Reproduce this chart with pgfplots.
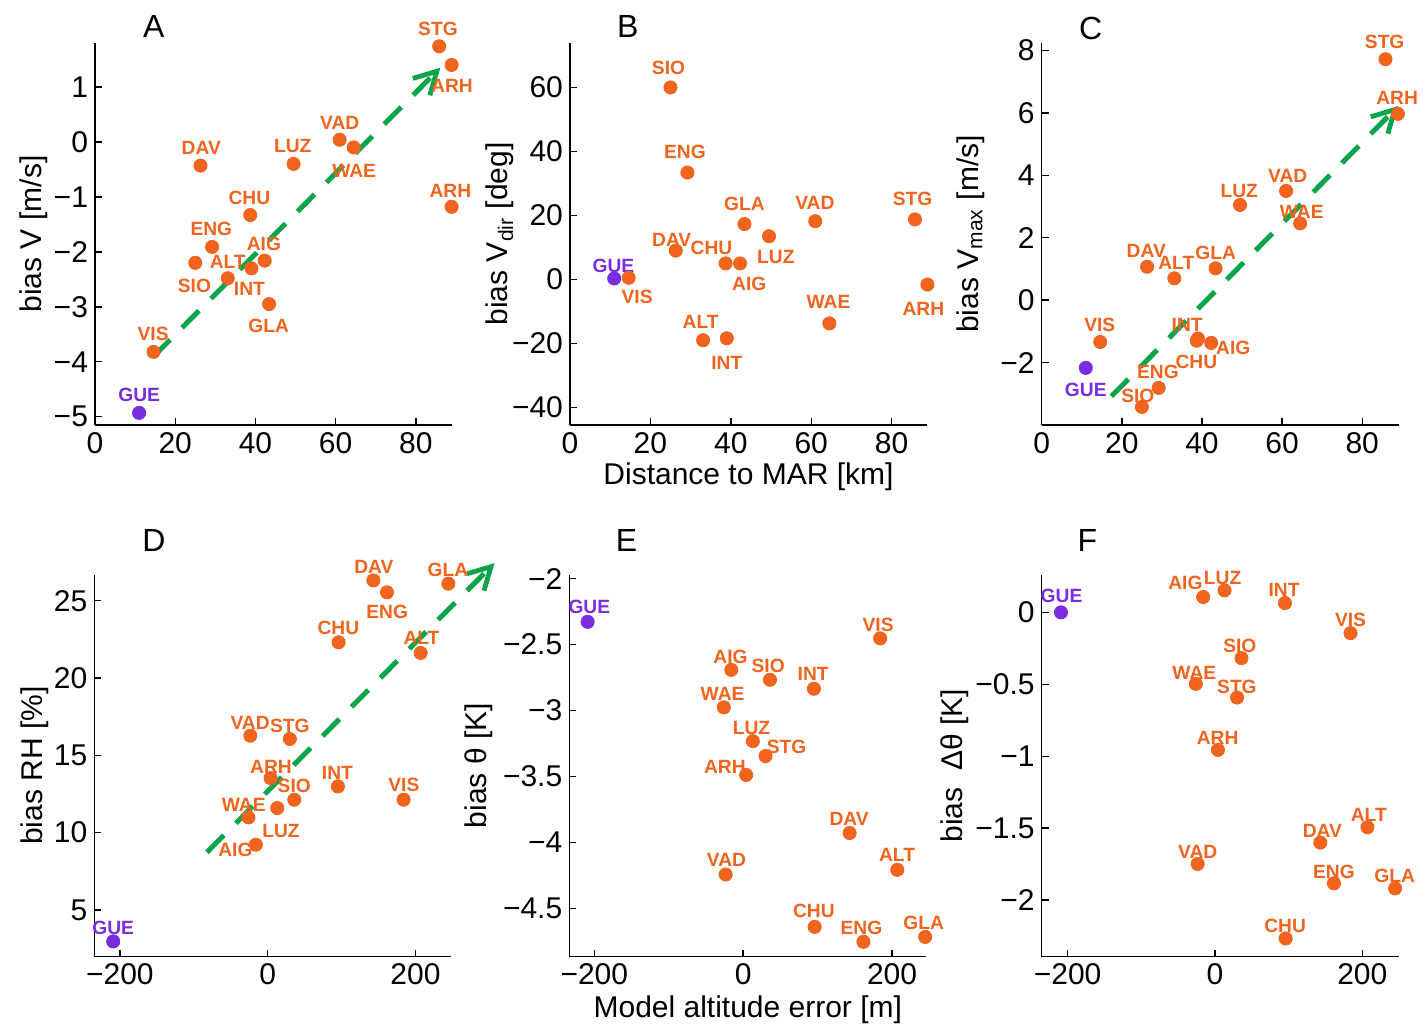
\documentclass[border=0pt]{standalone}
\usepackage{fontspec}
\setmainfont{Liberation Sans}
\setsansfont{Liberation Sans}
\usepackage{pgfplots}
\pgfplotsset{compat=1.18}
\usetikzlibrary{arrows.meta}
\definecolor{orgC}{RGB}{240,100,30}
\definecolor{purC}{RGB}{120,45,225}
\definecolor{grnC}{RGB}{10,165,75}
\pgfplotsset{
  panel/.style={
    anchor=south west, width=178.5pt, height=191pt, scale only axis,
    axis lines=left, axis line style={-, line width=0.7pt, black},
    tick align=inside, major tick length=3.5pt,
    every tick/.style={black, line width=0.7pt},
    ticklabel style={font=\fontsize{15}{15}\selectfont, text=black},
    label style={font=\fontsize{15}{16}\selectfont, text=black},
    clip=false,
  },
  orgpts/.style={only marks, mark=*, mark size=3.3pt, draw=orgC, fill=orgC},
  purpts/.style={only marks, mark=*, mark size=3.3pt, draw=purC, fill=purC},
  garrow/.style={no marks, draw=grnC, line width=2.5pt, dash pattern=on 12pt off 8.5pt, -{Straight Barb[length=11pt,width=12pt,line width=2.4pt]}},
}
\tikzset{
  st/.style={font=\fontsize{9.6}{10}\selectfont\bfseries, text=orgC, inner sep=0pt},
  gu/.style={font=\fontsize{9.6}{10}\selectfont\bfseries, text=purC, inner sep=0pt},
  let/.style={font=\fontsize{16}{16}\selectfont, text=black, inner sep=0pt},
}
\begin{document}
\begin{tikzpicture}[x=1pt,y=1pt]
\useasboundingbox (0,0) rectangle (712.5,515);
% ---------------- A ----------------
\begin{axis}[panel, at={(47.5pt,302.5pt)},
  xmin=0, xmax=89, ymin=-5.15, ymax=1.8,
  xtick={0,20,40,60,80}, xticklabels={0,20,40,60,80},
  ytick={-5,-4,-3,-2,-1,0,1}, yticklabels={−5,−4,−3,−2,−1,0,1},
  ylabel={bias V [m/s]},
  ylabel style={at={(axis description cs:-0.172,0.5)}, anchor=center}]
\addplot[orgpts] coordinates {(85.8,1.74) (88.9,1.40) (88.9,-1.18) (61,0.04) (64.5,-0.10) (26.3,-0.43) (49.5,-0.40) (38.7,-1.33) (29.2,-1.91) (25,-2.20) (33.1,-2.48) (39,-2.30) (42.3,-2.16) (43.4,-2.95) (14.6,-3.82)};
\addplot[purpts] coordinates {(11,-4.93)};
\addplot[garrow] coordinates {(14.5,-3.91) (86.1,1.35)};
\node[st] at (axis cs:85.5,2.05) {STG};
\node[st] at (axis cs:89,1.02) {ARH};
\node[st] at (axis cs:61,0.34) {VAD};
\node[st] at (axis cs:64.6,-0.53) {WAE};
\node[st] at (axis cs:26.5,-0.11) {DAV};
\node[st] at (axis cs:49.3,-0.08) {LUZ};
\node[st] at (axis cs:88.6,-0.89) {ARH};
\node[st] at (axis cs:38.5,-1.01) {CHU};
\node[st] at (axis cs:29,-1.58) {ENG};
\node[st] at (axis cs:42.1,-1.86) {AIG};
\node[st] at (axis cs:33.1,-2.18) {ALT};
\node[st] at (axis cs:24.8,-2.62) {SIO};
\node[st] at (axis cs:38.5,-2.68) {INT};
\node[st] at (axis cs:43.3,-3.35) {GLA};
\node[st] at (axis cs:14.5,-3.50) {VIS};
\node[gu] at (axis cs:11,-4.61) {GUE};
\node[let] at (rel axis cs:0.165,1.042) {A};
\end{axis}
% ---------------- B ----------------
\begin{axis}[panel, at={(285pt,302.5pt)},
  xmin=0, xmax=88.8, ymin=-45.5, ymax=73.9,
  xtick={0,20,40,60,80}, xticklabels={0,20,40,60,80},
  ytick={-40,-20,0,20,40,60}, yticklabels={−40,−20,0,20,40,60},
  xlabel={Distance to MAR [km]},
  xlabel style={at={(axis description cs:0.5,-0.136)}, anchor=center},
  ylabel={bias V\textsubscript{dir} [deg]},
  ylabel style={at={(axis description cs:-0.196,0.5)}, anchor=center}]
\addplot[orgpts] coordinates {(25,60) (29.2,33.4) (43.4,17.3) (61,18.2) (85.8,18.75) (49.5,13.5) (26.3,9.0) (38.7,5.0) (42.3,5.0) (14.6,0.5) (88.9,-1.6) (64.5,-13.75) (33.1,-19) (39,-18.4)};
\addplot[purpts] coordinates {(11,0.3)};
\node[st] at (axis cs:24.5,66.1) {SIO};
\node[st] at (axis cs:28.6,39.9) {ENG};
\node[st] at (axis cs:43.4,23.75) {GLA};
\node[st] at (axis cs:60.9,24) {VAD};
\node[st] at (axis cs:85.2,25.3) {STG};
\node[st] at (axis cs:25.3,12.5) {DAV};
\node[st] at (axis cs:35.2,10) {CHU};
\node[st] at (axis cs:51.2,7.1) {LUZ};
\node[gu] at (axis cs:10.8,4.3) {GUE};
\node[st] at (axis cs:44.6,-1.25) {AIG};
\node[st] at (axis cs:16.7,-5.6) {VIS};
\node[st] at (axis cs:64.3,-7) {WAE};
\node[st] at (axis cs:87.9,-9.1) {ARH};
\node[st] at (axis cs:32.5,-13.4) {ALT};
\node[st] at (axis cs:39,-26) {INT};
\node[let] at (rel axis cs:0.162,1.042) {B};
\end{axis}
% ---------------- C ----------------
\begin{axis}[panel, at={(520.85pt,302.5pt)},
  xmin=0, xmax=89.1, ymin=-4.0, ymax=8.24,
  xtick={0,20,40,60,80}, xticklabels={0,20,40,60,80},
  ytick={-2,0,2,4,6,8}, yticklabels={−2,0,2,4,6,8},
  ylabel={bias V\textsubscript{max} [m/s]},
  ylabel style={at={(axis description cs:-0.20,0.5)}, anchor=center}]
\addplot[orgpts] coordinates {(85.8,7.72) (88.9,5.97) (61,3.50) (49.5,3.05) (64.5,2.46) (26.3,1.07) (43.4,1.02) (33.1,0.70) (14.6,-1.34) (39,-1.23) (38.7,-1.30) (42.3,-1.37) (29.2,-2.81) (25,-3.42)};
\addplot[purpts] coordinates {(11,-2.17)};
\addplot[garrow] coordinates {(17.4,-3.08) (89.0,6.22)};
\node[st] at (axis cs:85.6,8.26) {STG};
\node[st] at (axis cs:88.7,6.47) {ARH};
\node[st] at (axis cs:61.4,3.98) {VAD};
\node[st] at (axis cs:49.3,3.51) {LUZ};
\node[st] at (axis cs:64.9,2.83) {WAE};
\node[st] at (axis cs:26.1,1.58) {DAV};
\node[st] at (axis cs:33.6,1.18) {ALT};
\node[st] at (axis cs:43.4,1.52) {GLA};
\node[st] at (axis cs:14.5,-0.80) {VIS};
\node[st] at (axis cs:36.3,-0.80) {INT};
\node[st] at (axis cs:47.8,-1.52) {AIG};
\node[st] at (axis cs:38.6,-1.98) {CHU};
\node[st] at (axis cs:29,-2.30) {ENG};
\node[gu] at (axis cs:11,-2.87) {GUE};
\node[st] at (axis cs:24,-3.07) {SIO};
\node[let] at (rel axis cs:0.137,1.037) {C};
\end{axis}
% ---------------- D ----------------
\begin{axis}[panel, at={(47.15pt,36.65pt)},
  xmin=-234.6, xmax=248.5, ymin=1.98, ymax=26.68,
  xtick={-200,0,200}, xticklabels={−200,0,200},
  ytick={5,10,15,20,25}, yticklabels={5,10,15,20,25},
  ylabel={bias RH [\%]},
  ylabel style={at={(axis description cs:-0.168,0.5)}, anchor=center}]
\addplot[orgpts] coordinates {(143,26.31) (161.5,25.54) (244.5,26.10) (96,22.31) (207,21.62) (-23.5,16.27) (30,16.06) (4,13.53) (95,12.99) (184,12.13) (36,12.13) (13,11.59) (-26,10.99) (-16,9.22)};
\addplot[purpts] coordinates {(-209,2.97)};
\addplot[garrow] coordinates {(-82.2,8.73) (307,27.43)};
\node[st] at (axis cs:143.8,27.16) {DAV};
\node[st] at (axis cs:244,27.0) {GLA};
\node[st] at (axis cs:161.8,24.25) {ENG};
\node[st] at (axis cs:95.7,23.23) {CHU};
\node[st] at (axis cs:208.1,22.59) {ALT};
\node[st] at (axis cs:-23.8,17.13) {VAD};
\node[st] at (axis cs:30.1,16.92) {STG};
\node[st] at (axis cs:4.5,14.25) {ARH};
\node[st] at (axis cs:94.4,13.86) {INT};
\node[st] at (axis cs:184.3,13.1) {VIS};
\node[st] at (axis cs:36,13.0) {SIO};
\node[st] at (axis cs:-32.4,11.8) {WAE};
\node[st] at (axis cs:18,10.09) {LUZ};
\node[st] at (axis cs:-43.6,8.9) {AIG};
\node[gu] at (axis cs:-209,3.84) {GUE};
\node[let] at (rel axis cs:0.167,1.09) {D};
\end{axis}
% ---------------- E ----------------
\begin{axis}[panel, at={(284.65pt,36.65pt)},
  xmin=-233.6, xmax=246, ymin=-4.864, ymax=-1.97,
  xtick={-200,0,200}, xticklabels={−200,0,200},
  ytick={-4.5,-4,-3.5,-3,-2.5,-2}, yticklabels={−4.5,−4,−3.5,−3,−2.5,−2},
  xlabel={Model altitude error [m]},
  xlabel style={at={(axis description cs:0.5,-0.14)}, anchor=center},
  ylabel={bias θ [K]},
  ylabel style={at={(axis description cs:-0.255,0.5)}, anchor=center}]
\addplot[orgpts] coordinates {(184,-2.452) (-16,-2.691) (36,-2.766) (95,-2.834) (-26,-2.975) (13,-3.231) (30,-3.344) (4,-3.487) (143,-3.927) (207,-4.206) (-23.5,-4.241) (96,-4.638) (161.5,-4.751) (244.5,-4.714)};
\addplot[purpts] coordinates {(-209,-2.327)};
\node[gu] at (axis cs:-206.7,-2.214) {GUE};
\node[st] at (axis cs:181.2,-2.347) {VIS};
\node[st] at (axis cs:-17,-2.59) {AIG};
\node[st] at (axis cs:33.6,-2.658) {SIO};
\node[st] at (axis cs:94,-2.724) {INT};
\node[st] at (axis cs:-27.7,-2.872) {WAE};
\node[st] at (axis cs:11.2,-3.13) {LUZ};
\node[st] at (axis cs:58.2,-3.276) {STG};
\node[st] at (axis cs:-24.6,-3.427) {ARH};
\node[st] at (axis cs:142.3,-3.822) {DAV};
\node[st] at (axis cs:206.7,-4.093) {ALT};
\node[st] at (axis cs:-22.4,-4.131) {VAD};
\node[st] at (axis cs:94.9,-4.518) {CHU};
\node[st] at (axis cs:158.8,-4.643) {ENG};
\node[st] at (axis cs:242.5,-4.608) {GLA};
\node[let] at (rel axis cs:0.16,1.09) {E};
\end{axis}
% ---------------- F ----------------
\begin{axis}[panel, at={(520.85pt,36.65pt)},
  xmin=-235.2, xmax=249.4, ymin=-2.394, ymax=0.262,
  xtick={-200,0,200}, xticklabels={−200,0,200},
  ytick={-2,-1.5,-1,-0.5,0}, yticklabels={−2,−1.5,−1,−0.5,0},
  ylabel={bias \ Δθ [K]},
  ylabel style={at={(axis description cs:-0.243,0.5)}, anchor=center}]
\addplot[orgpts] coordinates {(-16,0.107) (13,0.153) (95,0.065) (184,-0.144) (36,-0.318) (-26,-0.497) (30,-0.592) (4,-0.956) (207,-1.494) (143,-1.601) (-23.5,-1.749) (161.5,-1.884) (244.5,-1.919) (96,-2.267)};
\addplot[purpts] coordinates {(-209,0)};
\node[gu] at (axis cs:-208.3,0.116) {GUE};
\node[st] at (axis cs:-40.1,0.204) {AIG};
\node[st] at (axis cs:10.4,0.239) {LUZ};
\node[st] at (axis cs:93.8,0.153) {INT};
\node[st] at (axis cs:184,-0.051) {VIS};
\node[st] at (axis cs:33.8,-0.232) {SIO};
\node[st] at (axis cs:-28,-0.422) {WAE};
\node[st] at (axis cs:29.8,-0.515) {STG};
\node[st] at (axis cs:3.6,-0.875) {ARH};
\node[st] at (axis cs:208.8,-1.408) {ALT};
\node[st] at (axis cs:145.7,-1.52) {DAV};
\node[st] at (axis cs:-23.4,-1.664) {VAD};
\node[st] at (axis cs:161.4,-1.803) {ENG};
\node[st] at (axis cs:244,-1.833) {GLA};
\node[st] at (axis cs:95.2,-2.181) {CHU};
\node[let] at (rel axis cs:0.128,1.09) {F};
\end{axis}
\end{tikzpicture}
\end{document}
